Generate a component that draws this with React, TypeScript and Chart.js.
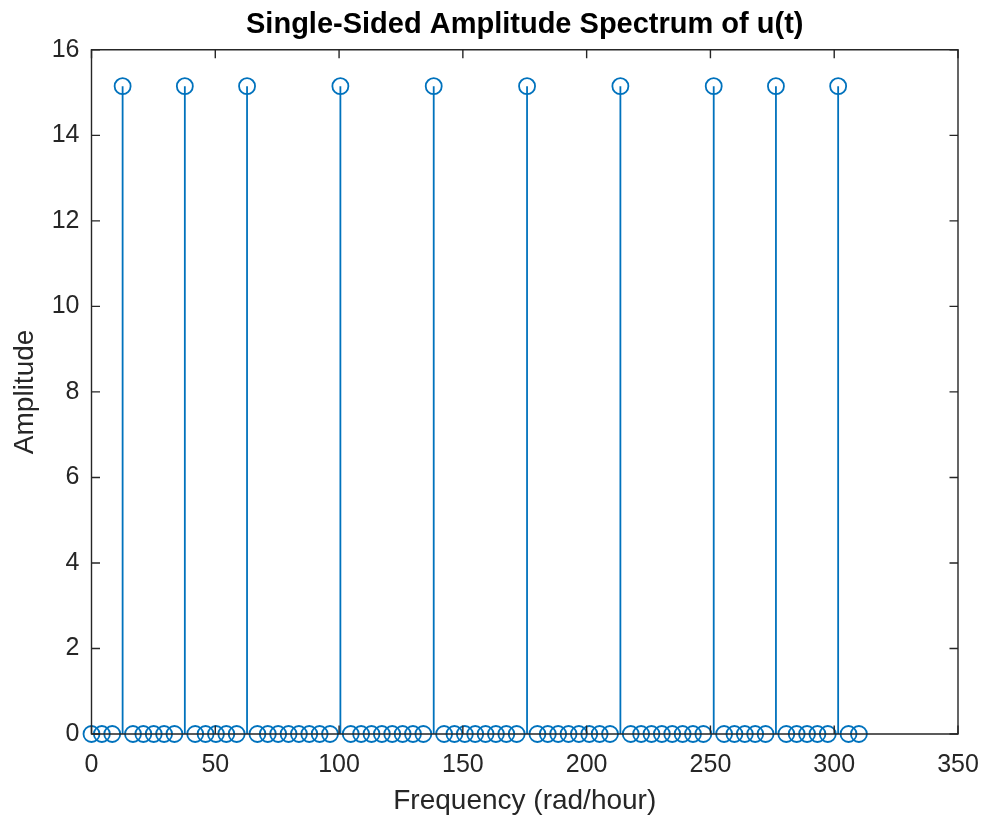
import React, { useEffect, useRef } from "react";
import { Chart, registerables } from "chart.js";

Chart.register(...registerables);

const frequencies: number[] = [
  0, 4.19, 8.38, 12.57, 16.76, 20.94, 25.13, 29.32, 33.51, 37.7,
  41.89, 46.08, 50.27, 54.45, 58.64, 62.83, 67.02, 71.21, 75.4, 79.59,
  83.78, 87.96, 92.15, 96.34, 100.53, 104.72, 108.91, 113.1, 117.29, 121.47,
  125.66, 129.85, 134.04, 138.23, 142.42, 146.61, 150.8, 154.99, 159.17, 163.36,
  167.55, 171.74, 175.93, 180.12, 184.31, 188.5, 192.68, 196.87, 201.06, 205.25,
  209.44, 213.63, 217.82, 222.01, 226.19, 230.38, 234.57, 238.76, 242.95, 247.14,
  251.33, 255.52, 259.7, 263.89, 268.08, 272.27, 276.46, 280.65, 284.84, 289.03,
  293.22, 297.4, 301.59, 305.78, 309.97,
];

const amplitudes: number[] = [
  0, 0, 0, 15.15, 0, 0, 0, 0, 0, 15.15,
  0, 0, 0, 0, 0, 15.15, 0, 0, 0, 0,
  0, 0, 0, 0, 15.15, 0, 0, 0, 0, 0,
  0, 0, 0, 15.15, 0, 0, 0, 0, 0, 0,
  0, 0, 15.15, 0, 0, 0, 0, 0, 0, 0,
  0, 15.15, 0, 0, 0, 0, 0, 0, 0, 0,
  15.15, 0, 0, 0, 0, 0, 15.15, 0, 0, 0,
  0, 0, 15.15, 0, 0,
];

const xTicks: number[] = [0, 50, 100, 150, 200, 250, 300, 350];
const yTicks: number[] = [0, 2, 4, 6, 8, 10, 12, 14, 16];

const STEM = "#0072BD";
const AXIS = "#262626";
const FONT = "'Liberation Sans', Arial, Helvetica, sans-serif";

const stemPlugin = {
  id: "stems",
  beforeDatasetsDraw(chart: any) {
    const meta = chart.getDatasetMeta(0);
    const y0 = chart.scales.y.getPixelForValue(0);
    const ctx = chart.ctx;
    ctx.save();
    ctx.strokeStyle = STEM;
    ctx.lineWidth = 1.8;
    meta.data.forEach((el: any, i: number) => {
      if (amplitudes[i] === 0) return;
      ctx.beginPath();
      ctx.moveTo(el.x, y0);
      ctx.lineTo(el.x, el.y);
      ctx.stroke();
    });
    ctx.restore();
  },
};

const boxPlugin = {
  id: "matlabBox",
  afterDatasetsDraw(chart: any) {
    const { ctx, chartArea } = chart;
    const { left, right, top, bottom } = chartArea;
    const xs = chart.scales.x;
    const ys = chart.scales.y;
    const tl = 8.5;
    ctx.save();
    ctx.strokeStyle = AXIS;
    ctx.lineWidth = 1.4;
    ctx.beginPath();
    ctx.rect(left, top, right - left, bottom - top);
    ctx.stroke();
    ctx.beginPath();
    xTicks.forEach((v) => {
      const px = xs.getPixelForValue(v);
      ctx.moveTo(px, bottom);
      ctx.lineTo(px, bottom - tl);
      ctx.moveTo(px, top);
      ctx.lineTo(px, top + tl);
    });
    yTicks.forEach((v) => {
      const py = ys.getPixelForValue(v);
      ctx.moveTo(left, py);
      ctx.lineTo(left + tl, py);
      ctx.moveTo(right, py);
      ctx.lineTo(right - tl, py);
    });
    ctx.stroke();
    ctx.restore();
  },
};

export default function App() {
  const ref = useRef<HTMLCanvasElement | null>(null);

  useEffect(() => {
    if (!ref.current) return;
    const chart = new Chart(ref.current, {
      type: "scatter",
      data: {
        datasets: [
          {
            label: "u(t)",
            data: frequencies.map((f, i) => ({ x: f, y: amplitudes[i] })),
            borderColor: STEM,
            backgroundColor: "rgba(0,0,0,0)",
            pointRadius: 8,
            pointBorderWidth: 1.8,
            pointHoverRadius: 8,
            showLine: false,
            clip: false as any,
          },
        ],
      },
      options: {
        animation: false,
        responsive: true,
        maintainAspectRatio: false,
        layout: { padding: { left: 0, right: 26, top: 0, bottom: 0 } },
        plugins: {
          legend: { display: false },
          tooltip: { enabled: false },
          title: {
            display: true,
            text: "Single-Sided Amplitude Spectrum of u(t)",
            color: "#000000",
            fullSize: false,
            font: { family: FONT, size: 29, weight: "bold" },
            padding: { top: 8, bottom: 7 },
          },
        },
        scales: {
          x: {
            type: "linear",
            min: 0,
            max: 350,
            afterFit: (s: any) => {
              s.height = 86;
              s.paddingLeft = 0;
              s.paddingRight = 0;
            },
            afterBuildTicks: (s: any) => {
              s.ticks = xTicks.map((v) => ({ value: v }));
            },
            grid: { display: false, drawTicks: false },
            border: { display: false },
            ticks: {
              color: AXIS,
              padding: 16,
              maxRotation: 0,
              font: { family: FONT, size: 25 },
            },
            title: {
              display: true,
              text: "Frequency (rad/hour)",
              color: AXIS,
              font: { family: FONT, size: 28 },
              padding: { top: 0, bottom: 2 },
            },
          },
          y: {
            type: "linear",
            min: 0,
            max: 16,
            afterFit: (s: any) => {
              s.width = 91.5;
              s.paddingTop = 0;
              s.paddingBottom = 0;
            },
            afterBuildTicks: (s: any) => {
              s.ticks = yTicks.map((v) => ({ value: v }));
            },
            grid: { display: false, drawTicks: false },
            border: { display: false },
            ticks: {
              color: AXIS,
              padding: 12,
              font: { family: FONT, size: 25 },
            },
            title: {
              display: true,
              text: "Amplitude",
              color: AXIS,
              font: { family: FONT, size: 28 },
              padding: { top: 8, bottom: 0 },
            },
          },
        },
      },
      plugins: [stemPlugin, boxPlugin],
    });
    return () => chart.destroy();
  }, []);

  return (
    <div style={{ position: "fixed", left: 0, top: 0, width: 984, height: 820, background: "#fff" }}>
      <canvas ref={ref} />
    </div>
  );
}
